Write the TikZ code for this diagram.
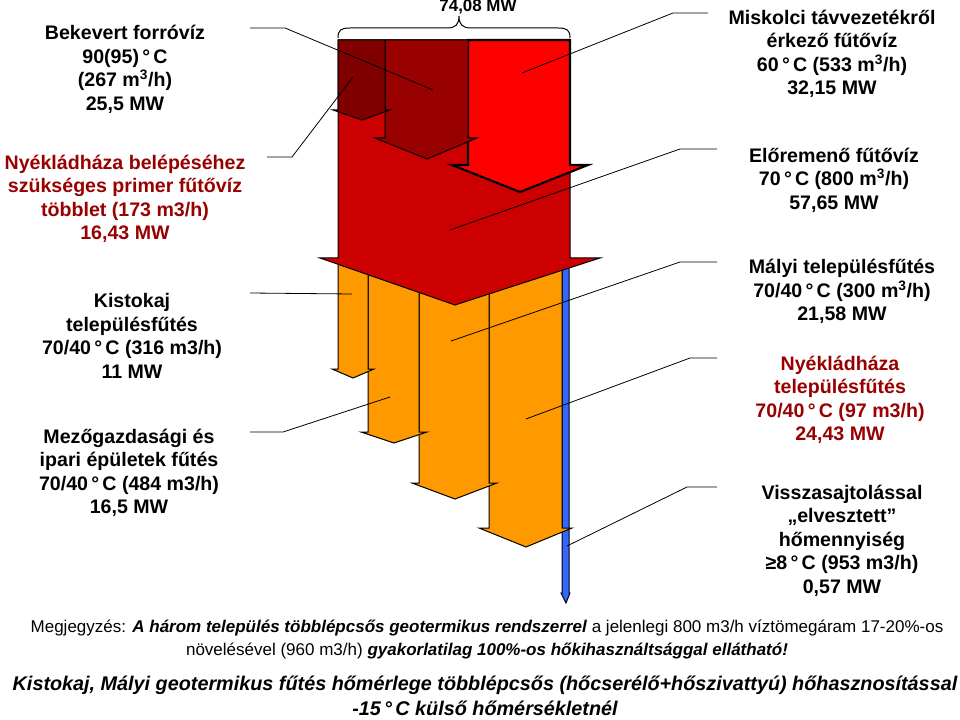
\documentclass[tikz,border=0pt]{standalone}
\usepackage{fontspec}
\setmainfont{Liberation Sans}
\definecolor{darkA}{HTML}{800000}
\definecolor{darkB}{HTML}{990000}
\definecolor{mainred}{HTML}{CC0000}
\definecolor{brightred}{HTML}{FF0000}
\definecolor{orangeA}{HTML}{FF9900}
\definecolor{blueA}{HTML}{3366FF}
\definecolor{txtred}{HTML}{990000}
\tikzset{
  shapeline/.style={draw=black, line width=0.75pt, line join=miter},
  lbl/.style={align=center, inner sep=0pt, font=\fontsize{14.7}{17.6}\selectfont\bfseries},
  leader/.style={draw=black, line width=0.6pt},
  notefont/.style={inner sep=0pt, font=\fontsize{12.75}{15}\selectfont},
  titlefont/.style={inner sep=0pt, font=\fontsize{14.85}{19}\selectfont\bfseries\itshape}
}
\begin{document}
\begin{tikzpicture}[x=0.75pt,y=-0.75pt]
\useasboundingbox (0,0) rectangle (960,720);
% blue arrow
\filldraw[shapeline, fill=blueA] (562,258) -- (562,593) -- (561,593) -- (566,603) -- (570,593) -- (569,593) -- (569,258) -- cycle;
% orange arrows
\filldraw[shapeline, fill=orangeA] (489,258) -- (489,528) -- (479,528) -- (526,547) -- (572,528) -- (562,528) -- (562,258) -- cycle;
\filldraw[shapeline, fill=orangeA] (419,258) -- (419,483) -- (412,483) -- (455,499) -- (497,483) -- (489,483) -- (489,258) -- cycle;
\filldraw[shapeline, fill=orangeA] (368,258) -- (368,432) -- (361,432) -- (394,443) -- (427,432) -- (419,432) -- (419,258) -- cycle;
\filldraw[shapeline, fill=orangeA] (338,258) -- (338,369) -- (332,369) -- (353,378) -- (374,369) -- (368,369) -- (368,258) -- cycle;
% main red arrow
\filldraw[shapeline, fill=mainred] (338,40) -- (338,258) -- (320,258) -- (455,305) -- (600,258) -- (570,258) -- (570,40) -- cycle;
% bright red arrow
\filldraw[draw=black, line width=1.6pt, line join=miter, fill=brightred] (468,40) -- (468,165) -- (452,165) -- (520,192) -- (588,165) -- (570,165) -- (570,40) -- cycle;
% dark arrows
\filldraw[shapeline, fill=darkB] (385,40) -- (385,138) -- (375,138) -- (427,159) -- (477,138) -- (468,138) -- (468,40) -- cycle;
\filldraw[shapeline, fill=darkA] (338,40) -- (338,110) -- (333,110) -- (362,120) -- (390,110) -- (385,110) -- (385,40) -- cycle;
% brace
\draw[line width=0.75pt] (338,38) .. controls (338,30) and (341,28) .. (350,28) -- (447,28) .. controls (456,28) and (459,24) .. (459,16) .. controls (459,24) and (462,28) .. (471,28) -- (558,28) .. controls (567,28) and (570,30) .. (570,38);
\node[inner sep=0pt, font=\fontsize{12.7}{15}\selectfont\bfseries] (total) at (478,7) {74,08 MW};

% labels
\node[lbl] (la) at (125,69.5) {Bekevert forróvíz\\90(95)\,°\,C\\(267 m\textsuperscript{3}/h)\\25,5 MW};
\node[lbl, text=txtred] (lb) at (125,199) {Nyékládháza belépéséhez\\szükséges primer fűtővíz\\többlet (173 m3/h)\\16,43 MW};
\node[lbl] (lc) at (132,336) {Kistokaj\\településfűtés\\70/40\,°\,C (316 m3/h)\\11 MW};
\node[lbl] (ld) at (129,473) {Mezőgazdasági és\\ipari épületek fűtés\\70/40\,°\,C (484 m3/h)\\16,5 MW};
\node[lbl] (ra) at (832,54) {Miskolci távvezetékről\\érkező fűtővíz\\60\,°\,C (533 m\textsuperscript{3}/h)\\32,15 MW};
\node[lbl] (rb) at (834,180) {Előremenő fűtővíz\\70\,°\,C (800 m\textsuperscript{3}/h)\\57,65 MW};
\node[lbl] (rc) at (842,291.5) {Mályi településfűtés\\70/40\,°\,C (300 m\textsuperscript{3}/h)\\21,58 MW};
\node[lbl, text=txtred] (rd) at (840,400) {Nyékládháza\\településfűtés\\70/40\,°\,C (97 m3/h)\\24,43 MW};
\node[lbl] (re) at (842,540.5) {Visszasajtolással\\„elvesztett”\\hőmennyiség\\≥8\,°\,C (953 m3/h)\\0,57 MW};

% notes and title
\node[notefont] (n1) at (487,628) {Megjegyzés: \textbf{\textit{A három település többlépcsős geotermikus rendszerrel}} a jelenlegi 800 m3/h víztömegáram 17-20\%-os};
\node[notefont] (n2) at (487,651) {növelésével (960 m3/h) \textbf{\textit{gyakorlatilag 100\%-os hőkihasználtsággal ellátható!}}};
\node[titlefont] (t1) at (485,685) {Kistokaj, Mályi geotermikus fűtés hőmérlege többlépcsős (hőcserélő+hőszivattyú) hőhasznosítással};
\node[titlefont] (t2) at (485,708.5) {-15\,°\,C külső hőmérsékletnél};

% leader coordinates
\coordinate (a1) at (250,28);  \coordinate (a2) at (285,28);  \coordinate (a3) at (433,90);
\coordinate (b1) at (267,157); \coordinate (b2) at (292,157); \coordinate (b3) at (353,77);
\coordinate (c1) at (250,293); \coordinate (c3) at (352,294);
\coordinate (d1) at (250,432); \coordinate (d2) at (283,432); \coordinate (d3) at (390,397);
\coordinate (e1) at (708,13);  \coordinate (e2) at (673,13);  \coordinate (e3) at (522,73);
\coordinate (f1) at (717,149); \coordinate (f2) at (680,149); \coordinate (f3) at (450,230);
\coordinate (g1) at (717,262); \coordinate (g2) at (680,262); \coordinate (g3) at (451,341);
\coordinate (h1) at (717,358); \coordinate (h2) at (690,358); \coordinate (h3) at (526,419);
\coordinate (k1) at (717,487); \coordinate (k2) at (687,487); \coordinate (k3) at (567,546);
\draw[leader] (a1) -- (a2) -- (a3);
\draw[leader] (b1) -- (b2) -- (b3);
\draw[leader] (c1) -- (c3);
\draw[leader] (d1) -- (d2) -- (d3);
\draw[leader] (e1) -- (e2) -- (e3);
\draw[leader] (f1) -- (f2) -- (f3);
\draw[leader] (g1) -- (g2) -- (g3);
\draw[leader] (h1) -- (h2) -- (h3);
\draw[leader] (k1) -- (k2) -- (k3);
\end{tikzpicture}
\end{document}
